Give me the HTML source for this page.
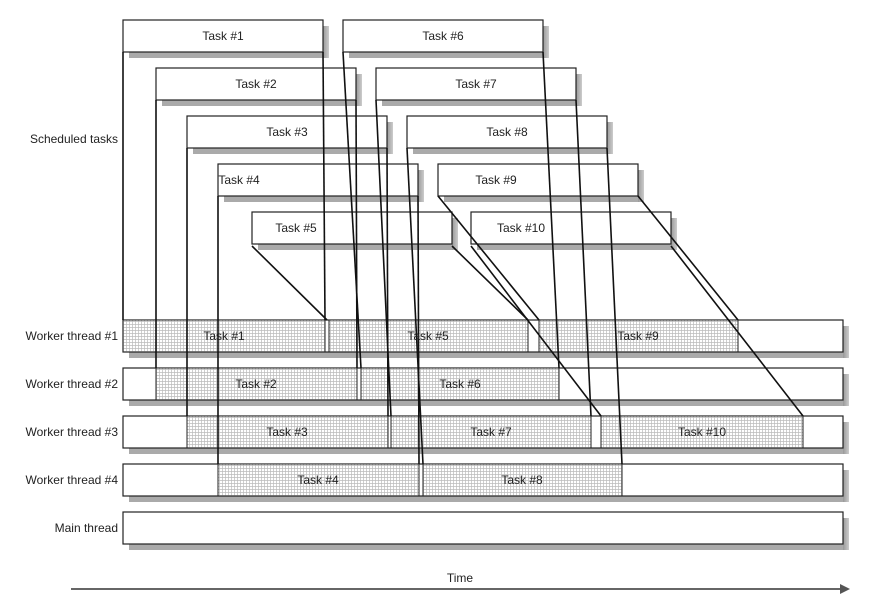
<!DOCTYPE html>
<html><head><meta charset="utf-8"><style>
html,body{margin:0;padding:0;background:#fff;}
svg text{font-family:"Liberation Sans",sans-serif;font-size:12px;fill:#222;}
</style></head><body>
<svg width="881" height="600" viewBox="0 0 881 600" xmlns="http://www.w3.org/2000/svg">
<defs>
<pattern id="h" width="3" height="3" patternUnits="userSpaceOnUse">
<rect width="3" height="3" fill="#fff"/>
<path d="M0 0.5H3M0.5 0V3" stroke="#bbb" stroke-width="0.7"/>
</pattern>
<linearGradient id="sg" x1="0" x2="1" y1="0" y2="0"><stop offset="0" stop-color="#999"/><stop offset="1" stop-color="#ccc"/></linearGradient>
</defs>
<g fill="#aaa">
<!-- scheduled shadows -->
<rect x="129" y="52" width="200" height="6"/><rect x="323" y="26" width="6" height="32" fill="url(#sg)"/>
<rect x="162" y="100" width="200" height="6"/><rect x="356" y="74" width="6" height="32" fill="url(#sg)"/>
<rect x="193" y="148" width="200" height="6"/><rect x="387" y="122" width="6" height="32" fill="url(#sg)"/>
<rect x="224" y="196" width="200" height="6"/><rect x="418" y="170" width="6" height="32" fill="url(#sg)"/>
<rect x="258" y="244" width="200" height="6"/><rect x="452" y="218" width="6" height="32" fill="url(#sg)"/>
<rect x="349" y="52" width="200" height="6"/><rect x="543" y="26" width="6" height="32" fill="url(#sg)"/>
<rect x="382" y="100" width="200" height="6"/><rect x="576" y="74" width="6" height="32" fill="url(#sg)"/>
<rect x="413" y="148" width="200" height="6"/><rect x="607" y="122" width="6" height="32" fill="url(#sg)"/>
<rect x="444" y="196" width="200" height="6"/><rect x="638" y="170" width="6" height="32" fill="url(#sg)"/>
<rect x="477" y="244" width="200" height="6"/><rect x="671" y="218" width="6" height="32" fill="url(#sg)"/>
<!-- row shadows -->
<rect x="129" y="352" width="720" height="6"/><rect x="843" y="326" width="6" height="32" fill="url(#sg)"/>
<rect x="129" y="400" width="720" height="6"/><rect x="843" y="374" width="6" height="32" fill="url(#sg)"/>
<rect x="129" y="448" width="720" height="6"/><rect x="843" y="422" width="6" height="32" fill="url(#sg)"/>
<rect x="129" y="496" width="720" height="6"/><rect x="843" y="470" width="6" height="32" fill="url(#sg)"/>
<rect x="129" y="544" width="720" height="6"/><rect x="843" y="518" width="6" height="32" fill="url(#sg)"/>
</g>
<g fill="#fff" stroke="#222" stroke-width="1.2">
<rect x="123" y="20" width="200" height="32"/>
<rect x="156" y="68" width="200" height="32"/>
<rect x="187" y="116" width="200" height="32"/>
<rect x="218" y="164" width="200" height="32"/>
<rect x="252" y="212" width="200" height="32"/>
<rect x="343" y="20" width="200" height="32"/>
<rect x="376" y="68" width="200" height="32"/>
<rect x="407" y="116" width="200" height="32"/>
<rect x="438" y="164" width="200" height="32"/>
<rect x="471" y="212" width="200" height="32"/>
<rect x="123" y="320" width="720" height="32"/>
<rect x="123" y="368" width="720" height="32"/>
<rect x="123" y="416" width="720" height="32"/>
<rect x="123" y="464" width="720" height="32"/>
<rect x="123" y="512" width="720" height="32"/>
</g>
<g fill="url(#h)" stroke="#222" stroke-width="1">
<rect x="123" y="320" width="202" height="32"/>
<rect x="329" y="320" width="199" height="32"/>
<rect x="539" y="320" width="199" height="32"/>
<rect x="156" y="368" width="201" height="32"/>
<rect x="361" y="368" width="198" height="32"/>
<rect x="187" y="416" width="201" height="32"/>
<rect x="391" y="416" width="200" height="32"/>
<rect x="601" y="416" width="202" height="32"/>
<rect x="218" y="464" width="201" height="32"/>
<rect x="423" y="464" width="199" height="32"/>
</g>
<g stroke="#111" stroke-width="1.6" fill="none">
<line x1="123" y1="52" x2="123" y2="320"/><line x1="323" y1="52" x2="325" y2="320"/>
<line x1="156" y1="100" x2="156" y2="368"/><line x1="356" y1="100" x2="357" y2="368"/>
<line x1="187" y1="148" x2="187" y2="416"/><line x1="387" y1="148" x2="388" y2="416"/>
<line x1="218" y1="196" x2="218" y2="464"/><line x1="418" y1="196" x2="419" y2="464"/>
<line x1="252" y1="246" x2="327" y2="320"/><line x1="452" y1="246" x2="528" y2="320"/>
<line x1="343" y1="52" x2="361" y2="368"/><line x1="543" y1="52" x2="559" y2="368"/>
<line x1="376" y1="100" x2="391" y2="416"/><line x1="576" y1="100" x2="591" y2="416"/>
<line x1="407" y1="148" x2="423" y2="464"/><line x1="607" y1="148" x2="622" y2="464"/>
<line x1="438" y1="196" x2="539" y2="320"/><line x1="638" y1="196" x2="738" y2="320"/>
<line x1="471" y1="246" x2="601" y2="416"/><line x1="671" y1="246" x2="803" y2="416"/>
</g>
<g text-anchor="middle">
<text x="223" y="40">Task #1</text>
<text x="256" y="88">Task #2</text>
<text x="287" y="136">Task #3</text>
<text x="239" y="184">Task #4</text>
<text x="296" y="232">Task #5</text>
<text x="443" y="40">Task #6</text>
<text x="476" y="88">Task #7</text>
<text x="507" y="136">Task #8</text>
<text x="496" y="184">Task #9</text>
<text x="521" y="232">Task #10</text>
<text x="224" y="340">Task #1</text>
<text x="428" y="340">Task #5</text>
<text x="638" y="340">Task #9</text>
<text x="256" y="388">Task #2</text>
<text x="460" y="388">Task #6</text>
<text x="287" y="436">Task #3</text>
<text x="491" y="436">Task #7</text>
<text x="702" y="436">Task #10</text>
<text x="318" y="484">Task #4</text>
<text x="522" y="484">Task #8</text>
<text x="460" y="582" font-size="11">Time</text>
</g>
<g text-anchor="end" font-size="11">
<text x="118" y="143">Scheduled tasks</text>
<text x="118" y="340">Worker thread #1</text>
<text x="118" y="388">Worker thread #2</text>
<text x="118" y="436">Worker thread #3</text>
<text x="118" y="484">Worker thread #4</text>
<text x="118" y="532">Main thread</text>
</g>
<line x1="71" y1="589" x2="842" y2="589" stroke="#333" stroke-width="1.5"/>
<path d="M840 584 L850 589 L840 594 Z" fill="#555"/>
</svg>
</body></html>
